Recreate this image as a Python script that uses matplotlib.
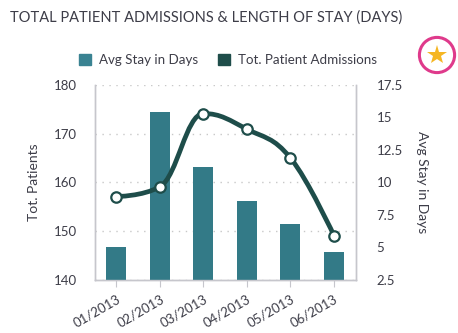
import numpy as np
import matplotlib
matplotlib.use("Agg")
import matplotlib.pyplot as plt
from matplotlib.path import Path
from matplotlib.patches import PathPatch, Circle, Rectangle

categories = ["01/2013", "02/2013", "03/2013", "04/2013", "05/2013", "06/2013"]
avg_stay = [5.0, 15.4, 11.2, 8.6, 6.8, 4.65]
tot_patients = [157.1, 159.1, 174.1, 170.9, 165.0, 149.1]
left_ticks = [140, 150, 160, 170, 180]
right_ticks = [2.5, 5, 7.5, 10, 12.5, 15, 17.5]
right_tick_labels = ["2.5", "5", "7.5", "10", "12.5", "15", "17.5"]

BAR = "#337a87"
LINE = "#1e4d4a"
TXT = "#3d3d48"
GRID = "#c8c8c8"

plt.rcParams["font.family"] = ["Lato", "DejaVu Sans"]

fig = plt.figure(figsize=(4.58, 3.33), dpi=100)
ax = fig.add_axes([0.2068, 0.1592, 0.5698, 0.5864])
ax2 = ax.twinx()

x = np.arange(len(categories))
ax.set_xlim(-0.5, len(categories) - 0.5)
ax.set_ylim(140, 180)

# bars on right axis
ax2.bar(x, avg_stay, width=0.46, color=BAR, bottom=0, zorder=2)
ax2.set_ylim(2.5, 17.5)

# spline (Highcharts-like) for line on left axis
def spline_path(xs, ys, smoothing=1.5):
    n = len(xs)
    denom = smoothing + 1
    lcx = [None] * n; lcy = [None] * n; rcx = [None] * n; rcy = [None] * n
    for i in range(1, n - 1):
        px, py = xs[i], ys[i]
        lx, ly = xs[i - 1], ys[i - 1]
        nx, ny = xs[i + 1], ys[i + 1]
        a = (smoothing * px + lx) / denom
        b = (smoothing * py + ly) / denom
        c = (smoothing * px + nx) / denom
        d = (smoothing * py + ny) / denom
        corr = ((d - b) * (c - px)) / (c - a) + py - d
        b += corr; d += corr
        if b > ly and b > py:
            b = max(ly, py); d = 2 * py - b
        elif b < ly and b < py:
            b = min(ly, py); d = 2 * py - b
        if d > ny and d > py:
            d = max(ny, py); b = 2 * py - d
        elif d < ny and d < py:
            d = min(ny, py); b = 2 * py - d
        lcx[i], lcy[i], rcx[i], rcy[i] = a, b, c, d
    verts = [(xs[0], ys[0])]
    codes = [Path.MOVETO]
    for i in range(1, n):
        c1 = (rcx[i - 1], rcy[i - 1]) if rcx[i - 1] is not None else (xs[i - 1], ys[i - 1])
        c2 = (lcx[i], lcy[i]) if lcx[i] is not None else (xs[i], ys[i])
        verts += [c1, c2, (xs[i], ys[i])]
        codes += [Path.CURVE4] * 3
    return Path(verts, codes)

ax3 = ax.twinx()
ax3.set_ylim(140, 180)
ax3.set_xlim(-0.5, len(categories) - 0.5)
ax3.axis("off")
p = spline_path(list(x.astype(float)), tot_patients)
ax3.add_patch(PathPatch(p, facecolor="none", edgecolor=LINE, lw=3.4, capstyle="round", zorder=3))
ax3.plot(x, tot_patients, linestyle="none", marker="o", markersize=7.5,
         markerfacecolor="white", markeredgecolor=LINE, markeredgewidth=1.6, zorder=4)

# grid
ax.set_yticks(left_ticks)
ax.yaxis.grid(True, linestyle=(0, (1, 4)), color=GRID, lw=1.0)
ax.set_axisbelow(True)
ax2.set_yticks(right_ticks)
ax2.set_yticklabels(right_tick_labels)

for a in (ax, ax2):
    a.spines["top"].set_visible(False)
    for s in ("left", "right", "bottom"):
        a.spines[s].set_color("#c6c6cc")
        a.spines[s].set_linewidth(1.0)
ax.tick_params(axis="y", length=0, labelsize=9.5, labelcolor=TXT, pad=13)
ax2.tick_params(axis="y", length=0, labelsize=9.5, labelcolor=TXT, pad=15)
ax.set_xticks(x)
ax.set_xticklabels(categories, rotation=30, ha="right", rotation_mode="anchor")
ax.tick_params(axis="x", length=5, color="#c6c6cc", labelsize=9.5, labelcolor=TXT, pad=4)

ax.set_ylabel("Tot. Patients", fontsize=10, color=TXT, labelpad=10)
ax2.set_ylabel("Avg Stay in Days", fontsize=10, color=TXT, rotation=270, labelpad=18)

fig.text(10 / 458, 1 - 18 / 333, "TOTAL PATIENT ADMISSIONS & LENGTH OF STAY (DAYS)",
         fontsize=10.5, color=TXT, ha="left", va="center")

# legend
handles = [Rectangle((0, 0), 1, 1, color="#3a8392"), Rectangle((0, 0), 1, 1, color="#1f4d4a")]
fig.legend(handles, ["Avg Stay in Days", "Tot. Patient Admissions"], loc="center",
           bbox_to_anchor=(228 / 458, 1 - 60 / 333), ncol=2, frameon=False, fontsize=9.6,
           handlelength=0.9, handleheight=0.9, handletextpad=0.6, columnspacing=1.5,
           labelcolor=TXT)

# star icon
icon_ax = fig.add_axes([417 / 458, 1 - 75 / 333, 40 / 458, 40 / 333])
icon_ax.set_xlim(-1, 1); icon_ax.set_ylim(-1, 1); icon_ax.set_aspect("equal")
icon_ax.axis("off")
icon_ax.add_patch(Circle((0, 0), 0.88, facecolor="white", edgecolor="#df3a8b", lw=2.2))
icon_ax.plot([0], [-0.02], marker="*", markersize=15, color="#f5b623", markeredgewidth=0)

fig.savefig("out.png", dpi=100)
